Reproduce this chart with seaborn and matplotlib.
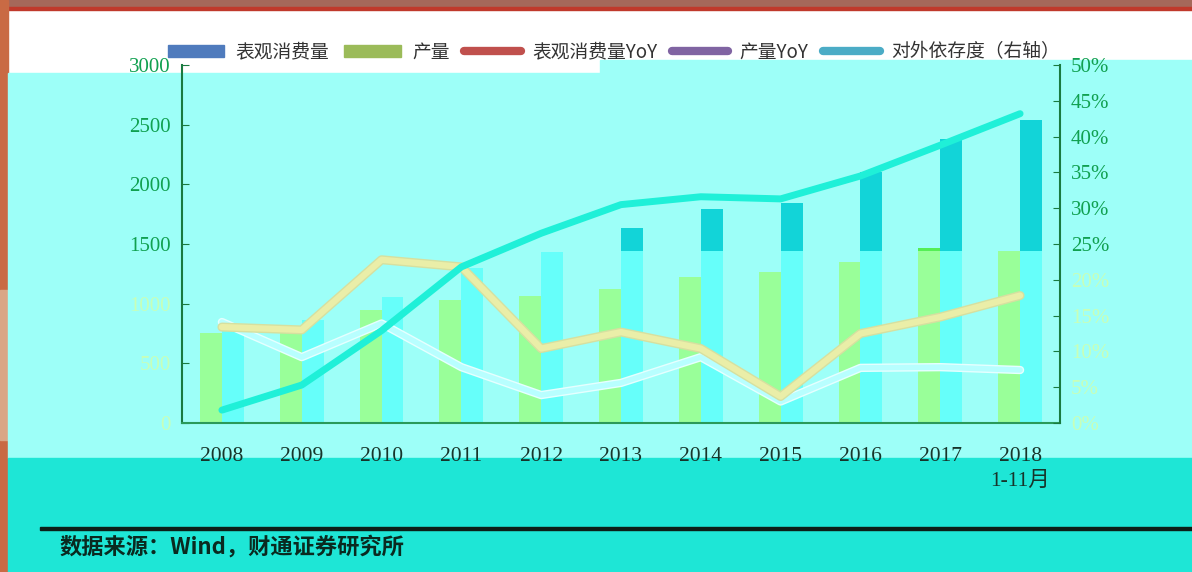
# ==============================
# 表观消费量 / 产量 / 对外依存度 chart
# ==============================

import numpy as np
import pandas as pd
import matplotlib
matplotlib.use("Agg")
import matplotlib.pyplot as plt
import seaborn as sns
from matplotlib.patches import Rectangle, Patch
from matplotlib.lines import Line2D
import matplotlib.patheffects as pe

# ------------------------------
# Data
# ------------------------------
years = ["2008", "2009", "2010", "2011", "2012", "2013", "2014",
         "2015", "2016", "2017", "2018\n1-11月"]
consumption = [780, 864, 1060, 1300, 1437, 1632, 1790, 1846, 2100, 2378, 2538]
production = [755, 770, 948, 1032, 1065, 1120, 1222, 1264, 1352, 1470, 1443]
consumption_yoy = [13.4, 13.0, 22.8, 21.8, 10.4, 12.7, 10.4, 3.7, 12.5, 14.8, 17.8]
production_yoy = [14.1, 9.2, 13.9, 7.8, 3.9, 5.6, 9.2, 3.0, 7.7, 7.8, 7.4]
dependence = [1.8, 5.3, 12.9, 21.8, 26.5, 30.5, 31.6, 31.3, 34.5, 38.8, 43.2]

legend_labels = ["表观消费量", "产量", "表观消费量YoY", "产量YoY", "对外依存度（右轴）"]
left_ticks = [0, 500, 1000, 1500, 2000, 2500, 3000]
right_ticks = [0, 5, 10, 15, 20, 25, 30, 35, 40, 45, 50]
source_text = "数据来源：Wind，财通证券研究所"

bars = pd.DataFrame({
    "year": years * 2,
    "value": production + consumption,
    "series": ["产量"] * len(years) + ["表观消费量"] * len(years),
})
x = np.arange(len(years))

# ------------------------------
# Figure & background
# ------------------------------
sns.set_style("white")
plt.rcParams["font.family"] = ["Liberation Serif", "Noto Sans CJK SC", "DejaVu Sans"]

W, H = 1192, 572
fig = plt.figure(figsize=(W / 100, H / 100), dpi=100)
fig.patch.set_facecolor("white")


def px_rect(x0, y0, x1, y1, color):
    fig.patches.append(Rectangle((x0 / W, 1 - y1 / H), (x1 - x0) / W, (y1 - y0) / H,
                                 transform=fig.transFigure, color=color, zorder=-10))


px_rect(0, 0, W, 7, "#a5685a")
px_rect(0, 7, W, 10, "#c0392b")
px_rect(0, 0, 8, H, "#c96a44")
px_rect(0, 290, 8, 440, "#d9a686")
px_rect(8, 73, 600, 458, "#9dfff8")
px_rect(600, 60, W, 458, "#9dfff8")
px_rect(8, 458, W, H, "#1ee6d6")
px_rect(40, 527, W, 530, "#0c1f18")

ax = fig.add_axes([182 / W, 1 - 423 / H, 878 / W, 358 / H])
ax.set_facecolor("none")

# bars: darker pass, then lighter pass clipped below the glitch level
sns.barplot(data=bars, x="year", y="value", hue="series", hue_order=["产量", "表观消费量"],
            palette={"产量": "#55ee55", "表观消费量": "#12d4d8"},
            width=0.55, gap=0, saturation=1, linewidth=0, legend=False, ax=ax)
n_first = len(ax.patches)
sns.barplot(data=bars, x="year", y="value", hue="series", hue_order=["产量", "表观消费量"],
            palette={"产量": "#99ff99", "表观消费量": "#66fffa"},
            width=0.55, gap=0, saturation=1, linewidth=0, legend=False, ax=ax)
clip = Rectangle((-1, 0), 20, 1443, transform=ax.transData)
for p in ax.patches[n_first:]:
    p.set_clip_path(clip)

ax.set_xlim(-0.5, len(years) - 0.5)
ax.set_ylim(0, 3000)
ax.set_yticks(left_ticks)
ax.set_xlabel("")
ax.set_ylabel("")
ax.set_xticks(x)
ax.set_xticklabels(years, fontsize=15.5, color="#17342a", linespacing=1.45)
ax.set_xticks(x[:-1] + 0.5, minor=True)
ax.tick_params(axis="x", which="major", length=0, pad=17)
ax.tick_params(axis="x", which="minor", length=5, direction="in", color="#2a8a4a")
ax.tick_params(axis="y", length=5, direction="in", color="#1a7a40", labelsize=15, pad=8)
for lbl, v in zip(ax.get_yticklabels(), left_ticks):
    lbl.set_color("#10a050" if v >= 1500 else "#c8ffb8")
for s in ["top", "right"]:
    ax.spines[s].set_visible(False)
ax.spines["left"].set_color("#1a7a40")
ax.spines["bottom"].set_color("#2a9a5a")
ax.spines["left"].set_linewidth(1.5)
ax.spines["bottom"].set_linewidth(1.5)

# ------------------------------
# Lines on right axis
# ------------------------------
ax2 = ax.twinx()
sns.lineplot(x=x, y=production_yoy, color="#b8ffff", lw=4, ax=ax2,
             path_effects=[pe.Stroke(linewidth=6, foreground="#e6ffff"), pe.Normal()])
sns.lineplot(x=x, y=consumption_yoy, color="#eaeea8", lw=4.5, ax=ax2,
             path_effects=[pe.Stroke(linewidth=6.5, foreground="#d6e0a0"), pe.Normal()])
sns.lineplot(x=x, y=dependence, color="#1ff0d8", lw=5, ax=ax2)
ax2.set_ylim(0, 50)
ax2.set_yticks(right_ticks)
ax2.set_yticklabels([f"{v}%" for v in right_ticks])
ax2.tick_params(axis="y", length=5, direction="in", color="#1a7a40", labelsize=15, pad=8)
for lbl, v in zip(ax2.get_yticklabels(), right_ticks):
    lbl.set_color("#10a050" if v >= 25 else "#c8ffb8")
for s in ["top", "left", "bottom"]:
    ax2.spines[s].set_visible(False)
ax2.spines["right"].set_color("#1a7a40")
ax2.spines["right"].set_linewidth(1.5)

# ------------------------------
# Legend & source
# ------------------------------
handles = [
    Patch(color="#4f7bbd"),
    Patch(color="#9bbb59"),
    Line2D([], [], color="#c0504d", lw=6, solid_capstyle="round"),
    Line2D([], [], color="#8064a2", lw=6, solid_capstyle="round"),
    Line2D([], [], color="#4bacc6", lw=6, solid_capstyle="round"),
]
fig.legend(handles, legend_labels, loc="center", bbox_to_anchor=(0.515, 1 - 52 / H),
           ncol=5, frameon=False, handlelength=3.0, handleheight=0.6, columnspacing=0.8,
           handletextpad=0.6, prop={"family": ["Noto Sans CJK SC"], "size": 13.5},
           labelcolor="#333333")

fig.text(60 / W, 1 - 547 / H, source_text, fontsize=16, fontweight="bold",
         family=["Noto Sans CJK SC"], color="#0a2a20", va="center")

fig.savefig("out.png", dpi=100)
